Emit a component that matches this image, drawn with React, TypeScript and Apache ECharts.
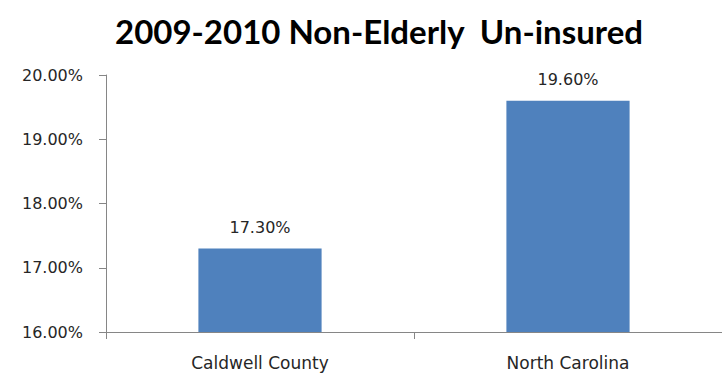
import React, { useEffect, useRef } from "react";
import * as echarts from "echarts";

const titleText = "2009-2010 Non-Elderly  Un-insured";
const categories = ["Caldwell County", "North Carolina"];
const values = [17.3, 19.6];
const yMin = 16;
const yMax = 20;
const yInterval = 1;

export default function App() {
  const ref = useRef<HTMLDivElement>(null);
  useEffect(() => {
    if (!ref.current) return;
    const chart = echarts.init(ref.current, undefined, { renderer: "svg" });
    const titleFont = "Lato, 'Open Sans', sans-serif";
    const font = "'DejaVu Sans', Verdana, sans-serif";
    chart.setOption({
      animation: false,
      backgroundColor: "#ffffff",
      title: {
        text: titleText,
        left: 374,
        textAlign: "center",
        top: 9,
        textStyle: { fontFamily: titleFont, fontWeight: "bold", fontSize: 33, color: "#000000" },
      },
      grid: { left: 106, right: -8, top: 75, bottom: 44, containLabel: false },
      xAxis: {
        type: "category",
        data: categories,
        axisLine: { lineStyle: { color: "#868686", width: 1 } },
        axisTick: { show: true, alignWithLabel: false, length: 7, lineStyle: { color: "#868686" } },
        axisLabel: { fontFamily: font, fontSize: 17, color: "#262626", margin: 22 },
        splitLine: { show: false },
      },
      yAxis: {
        type: "value",
        min: yMin,
        max: yMax,
        interval: yInterval,
        axisLine: { show: true, lineStyle: { color: "#868686", width: 1 } },
        axisTick: { show: true, length: 7, lineStyle: { color: "#868686" } },
        axisLabel: {
          fontFamily: font,
          fontSize: 16,
          color: "#262626",
          margin: 23,
          formatter: (v: number) => v.toFixed(2) + "%",
        },
        splitLine: { show: false },
      },
      series: [
        {
          type: "bar",
          data: values,
          barWidth: "40%",
          itemStyle: { color: "#4F81BD" },
          label: {
            show: true,
            position: "top",
            distance: 13,
            fontFamily: font,
            fontSize: 16,
            color: "#262626",
            formatter: (p: any) => Number(p.value).toFixed(2) + "%",
          },
        },
      ],
    });
    return () => chart.dispose();
  }, []);
  return <div ref={ref} style={{ width: 722, height: 376, position: "fixed", left: 0, top: 0 }} />;
}
